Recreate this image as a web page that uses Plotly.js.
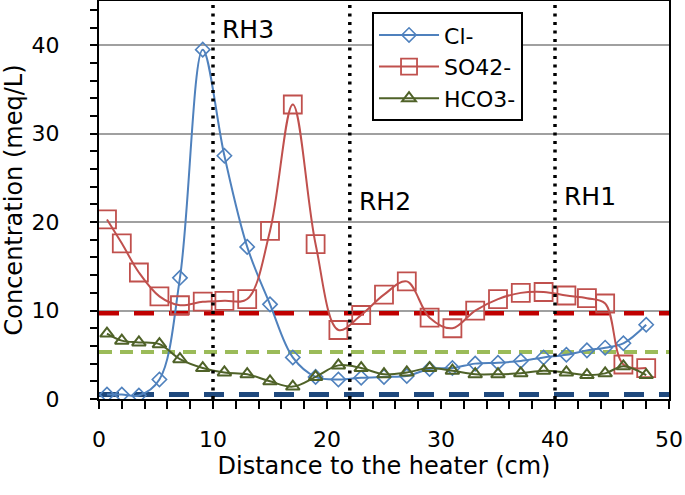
<!DOCTYPE html>
<html>
<head>
<meta charset="utf-8">
<script src="https://cdn.plot.ly/plotly-3.0.1.min.js"></script>
<style>html,body{margin:0;padding:0;background:#fff}#chart{width:685px;height:495px}</style>
</head>
<body>
<div id="chart"></div>
<script>
// Distance to heater (cm)
const distance = [0.7, 2, 3.5, 5.3, 7.1, 9.1, 11, 13, 15, 17, 19, 21, 23, 25, 27, 29, 31, 33, 35, 37, 39, 41, 42.8, 44.4, 46, 48];
// Concentrations (meq/L)
const cl   = [0.5, 0.5, 0.4, 2.2, 13.7, 39.5, 27.5, 17.2, 10.7, 4.7, 2.5, 2.2, 2.4, 2.5, 2.6, 3.4, 3.5, 4.0, 4.1, 4.3, 4.7, 5.0, 5.5, 5.8, 6.3, 8.4];
const so4  = [20.3, 17.6, 14.3, 11.6, 10.6, 11.0, 11.1, 11.3, 19.0, 33.3, 17.5, 7.8, 9.5, 11.8, 13.3, 9.2, 8.0, 10.0, 11.3, 12.0, 12.1, 11.7, 11.4, 10.8, 3.9, 3.5];
const hco3 = [7.4, 6.6, 6.4, 6.2, 4.5, 3.5, 3.0, 2.8, 2.0, 1.4, 2.5, 3.8, 3.5, 2.8, 3.0, 3.5, 3.2, 2.8, 2.8, 2.9, 3.2, 3.0, 2.7, 2.9, 3.7, 2.7];
const seriesNames = ['Cl-', 'SO42-', 'HCO3-'];
// Initial (reference) concentrations, horizontal dashed lines
const refValues = [0.5, 9.7, 5.3];
const refRange = [0, 50];
// RH sensor positions
const rhPositions = [10, 22, 40];
const rhLabels = ['RH3', 'RH2', 'RH1'];
const rhLabelY = [41.8, 22.3, 22.9];
const yRange = [0, 45];

const FONT = "'DejaVu Sans', Verdana, sans-serif";
const colors = ['#4F81BD', '#C0504D', '#4F6228'];
const refColors = ['#1F497D', '#C00000', '#9BBB59'];
const refDash = ['20px,15px', '20px,15px', '13px,8px'];
const refWidth = [5, 4.5, 4];

const traces = [];
refValues.forEach((v, i) => {
  traces.push({
    x: refRange, y: [v, v], mode: 'lines', showlegend: false, hoverinfo: 'skip',
    line: {color: refColors[i], width: refWidth[i], dash: refDash[i]}
  });
});
const data = [cl, so4, hco3];
const symbols = ['diamond-open', 'square-open', 'triangle-up-open'];
const sizes = [11, 18, 12];
const mlw = [1.6, 1.8, 2];
data.forEach((d, i) => {
  traces.push({
    x: distance, y: d, name: seriesNames[i], mode: 'lines+markers',
    line: {color: colors[i], width: 2, shape: 'spline', smoothing: 1},
    marker: {symbol: symbols[i], size: sizes[i], color: colors[i], line: {color: colors[i], width: mlw[i]}}
  });
});
rhPositions.forEach((p) => {
  traces.push({
    x: [p, p], y: yRange, mode: 'lines', showlegend: false, hoverinfo: 'skip',
    line: {color: '#000', width: 3.5, dash: '3px,5.5px'}
  });
});

const annotations = rhPositions.map((p, i) => ({
  x: p + 0.6, y: rhLabelY[i], text: rhLabels[i], showarrow: false,
  xanchor: 'left', yanchor: 'middle', font: {family: FONT, size: 25, color: '#000'}
}));

const layout = {
  width: 685, height: 495,
  margin: {l: 99, r: 16, t: 1, b: 96},
  paper_bgcolor: '#fff', plot_bgcolor: '#fff',
  font: {family: FONT, size: 22, color: '#000'},
  showlegend: true,
  legend: {
    x: 0.479, y: 0.972, xanchor: 'left', yanchor: 'top',
    bgcolor: '#fff', bordercolor: '#000', borderwidth: 2,
    font: {family: FONT, size: 22, color: '#000'},
    itemwidth: 60, tracegroupgap: 0
  },
  xaxis: {
    range: [0, 50], dtick: 10, tick0: 0,
    ticks: 'outside', ticklen: 8, tickwidth: 2, tickcolor: '#000',
    minor: {dtick: 2, ticks: 'outside', ticklen: 8, tickwidth: 2, tickcolor: '#000', showgrid: false},
    showline: true, linecolor: '#000', linewidth: 2, mirror: true,
    showgrid: false, zeroline: false,
    ticklabelstandoff: 12,
    tickfont: {family: FONT, size: 22, color: '#000'},
    title: {text: 'Distance to the heater (cm)', font: {family: FONT, size: 24, color: '#000'}, standoff: 6}
  },
  yaxis: {
    range: yRange, dtick: 10, tick0: 0,
    ticks: 'outside', ticklen: 7, tickwidth: 2, tickcolor: '#000',
    minor: {dtick: 2, ticks: 'outside', ticklen: 7, tickwidth: 2, tickcolor: '#000', showgrid: false},
    showline: true, linecolor: '#000', linewidth: 2, mirror: true,
    showgrid: true, gridcolor: '#A0A0A0', gridwidth: 2, zeroline: false,
    ticklabelstandoff: 26,
    tickfont: {family: FONT, size: 22, color: '#000'},
    title: {text: 'Concentration (meq/L)', font: {family: FONT, size: 24, color: '#000'}, standoff: 8}
  },
  annotations: annotations
};

Plotly.newPlot('chart', traces, layout, {staticPlot: true, displayModeBar: false});
</script>
</body>
</html>
